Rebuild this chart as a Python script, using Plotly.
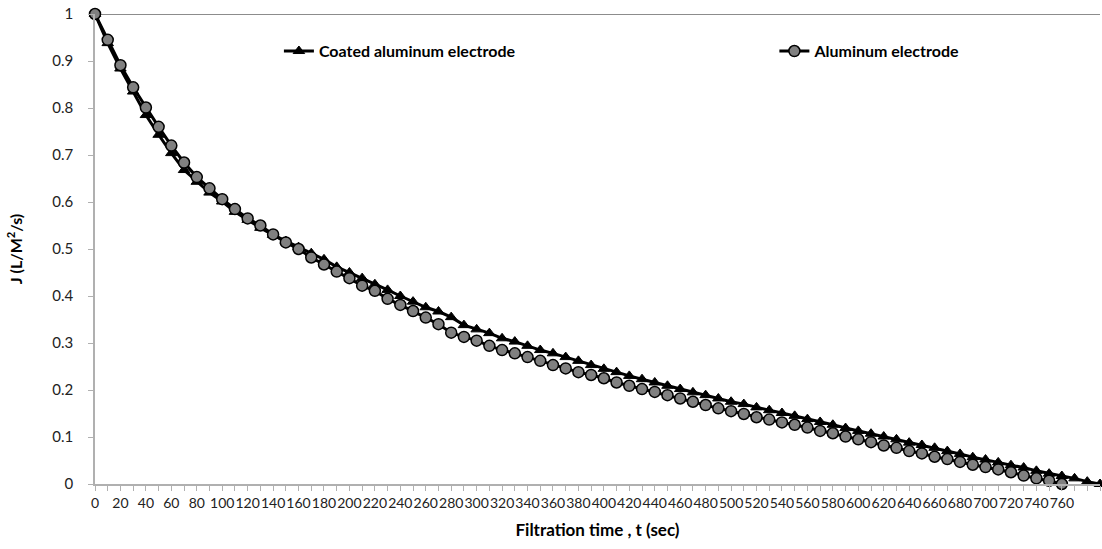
import plotly.graph_objects as go

# Filtration time categories (sec)
time_coated = [t * 10 for t in range(80)]
time_plain = [t * 10 for t in range(77)]

# Tick labels: every second category, blank after 760
tick_vals = list(range(0, 800, 10))
tick_text = [str(v) if (v % 20 == 0 and v <= 760) else "" for v in tick_vals]

# Flux J (L/M2/s) for the coated aluminum electrode
flux_coated = [
    1.000, 0.938, 0.884, 0.835, 0.785, 0.743, 0.704, 0.668, 0.643, 0.620,
    0.601, 0.579, 0.562, 0.545, 0.530, 0.517, 0.504, 0.491, 0.478, 0.462,
    0.450, 0.438, 0.425, 0.413, 0.400, 0.388, 0.376, 0.367, 0.355, 0.338,
    0.329, 0.321, 0.310, 0.303, 0.294, 0.285, 0.278, 0.270, 0.262, 0.253,
    0.245, 0.238, 0.230, 0.223, 0.216, 0.209, 0.202, 0.195, 0.189, 0.182,
    0.175, 0.170, 0.163, 0.157, 0.151, 0.145, 0.138, 0.132, 0.126, 0.119,
    0.113, 0.107, 0.101, 0.095, 0.088, 0.083, 0.077, 0.070, 0.064, 0.057,
    0.052, 0.046, 0.040, 0.035, 0.028, 0.022, 0.017, 0.012, 0.005, 0.000,
]

# Flux J (L/M2/s) for the plain aluminum electrode
flux_plain = [
    1.000, 0.945, 0.891, 0.844, 0.801, 0.760, 0.720, 0.684, 0.653, 0.629,
    0.606, 0.585, 0.565, 0.550, 0.531, 0.514, 0.500, 0.482, 0.467, 0.452,
    0.438, 0.422, 0.411, 0.394, 0.381, 0.368, 0.354, 0.340, 0.322, 0.313,
    0.305, 0.294, 0.285, 0.278, 0.270, 0.262, 0.253, 0.246, 0.238, 0.232,
    0.225, 0.216, 0.209, 0.202, 0.196, 0.189, 0.182, 0.175, 0.168, 0.161,
    0.155, 0.149, 0.142, 0.137, 0.131, 0.126, 0.120, 0.113, 0.108, 0.101,
    0.095, 0.089, 0.082, 0.077, 0.070, 0.065, 0.058, 0.053, 0.047, 0.041,
    0.036, 0.031, 0.025, 0.018, 0.012, 0.007, 0.000,
]

FONT = "Lato"

fig = go.Figure()

fig.add_trace(go.Scatter(
    x=time_coated, y=flux_coated, mode="lines+markers",
    name="Coated aluminum electrode",
    line=dict(color="black", width=3),
    marker=dict(symbol="triangle-up", size=10, color="black",
                line=dict(color="black", width=1)),
    cliponaxis=False, legend="legend",
))

fig.add_trace(go.Scatter(
    x=time_plain, y=flux_plain, mode="lines+markers",
    name="Aluminum electrode",
    line=dict(color="black", width=3),
    marker=dict(symbol="circle", size=11, color="#808080",
                line=dict(color="black", width=1.5)),
    cliponaxis=False, legend="legend2",
))

# Horizontal line at J = 1
fig.add_shape(type="line", xref="paper", yref="y", x0=0, x1=1, y0=1, y1=1,
              line=dict(color="#8c8c8c", width=2), layer="below")

legend_font = dict(family=FONT, size=16, color="black", weight="bold")

fig.update_layout(
    width=1102, height=549,
    margin=dict(l=95, r=2, t=14, b=65),
    paper_bgcolor="white", plot_bgcolor="white",
    font=dict(family=FONT, size=14, color="#222222"),
    showlegend=True,
    legend=dict(x=0.183, y=0.921, xanchor="left", yanchor="middle",
                bgcolor="rgba(0,0,0,0)", font=legend_font, itemwidth=30),
    legend2=dict(x=0.676, y=0.921, xanchor="left", yanchor="middle",
                 bgcolor="rgba(0,0,0,0)", font=legend_font, itemwidth=30),
    xaxis=dict(
        range=[0, 790], tickmode="array", tickvals=tick_vals, ticktext=tick_text,
        showgrid=False, zeroline=False,
        showline=True, linecolor="#b0b0b0", linewidth=1.5,
        ticks="outside", ticklen=5, tickcolor="#b0b0b0",
        tickangle=0, tickfont=dict(family=FONT, size=14, color="#222222"),
        title=dict(text="Filtration time , t (sec)", standoff=15,
                   font=dict(family=FONT, size=17, color="black", weight="bold")),
    ),
    yaxis=dict(
        range=[0, 1], tickmode="array",
        tickvals=[0, 0.1, 0.2, 0.3, 0.4, 0.5, 0.6, 0.7, 0.8, 0.9, 1],
        ticktext=["0", "0.1", "0.2", "0.3", "0.4", "0.5", "0.6", "0.7", "0.8", "0.9", "1"],
        showgrid=False, zeroline=False,
        showline=True, linecolor="#b0b0b0", linewidth=1.5,
        ticks="outside", ticklen=5, tickcolor="#b0b0b0",
        ticklabelstandoff=12,
        tickfont=dict(family=FONT, size=15, color="#222222"),
        title=dict(text="J (L/M<sup>2</sup>/s)", standoff=26,
                   font=dict(family=FONT, size=16, color="black", weight="bold")),
    ),
)

fig.write_html("out.html")
